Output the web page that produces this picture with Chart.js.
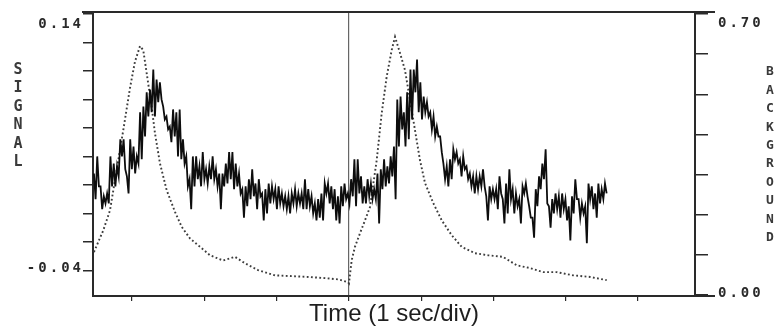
<!DOCTYPE html>
<html>
<head>
<meta charset="utf-8">
<script src="https://cdn.jsdelivr.net/npm/chart.js@4"></script>
<style>
  html, body { margin: 0; padding: 0; background: #fff; }
  #wrap { width: 779px; height: 329px; }
</style>
</head>
<body>
<div id="wrap"><canvas id="chart" width="779" height="329"></canvas></div>
<script>
// Signal trace: evenly sampled, starts at SIGNAL_T0 seconds, one sample every SIGNAL_DT
const SIGNAL_T0 = -0.526;
const SIGNAL_DT = 0.0228;
const signalValues = [
  0.028, 0.010, 0.040, 0.019, 0.019, 0.003, 0.012, 0.007, 0.014, 0.007,
  0.040, 0.019, 0.035, 0.019, 0.033, 0.026, 0.052, 0.040, 0.052, 0.031,
  0.026, 0.014, 0.052, 0.031, 0.047, 0.028, 0.040, 0.035, 0.071, 0.038,
  0.075, 0.054, 0.085, 0.068, 0.087, 0.071, 0.101, 0.068, 0.094, 0.078,
  0.092, 0.080, 0.075, 0.066, 0.068, 0.059, 0.061, 0.050, 0.073, 0.054,
  0.071, 0.040, 0.073, 0.038, 0.052, 0.035, 0.040, 0.019, 0.024, 0.003,
  0.040, 0.019, 0.040, 0.024, 0.033, 0.019, 0.043, 0.024, 0.031, 0.021,
  0.033, 0.024, 0.040, 0.024, 0.031, 0.019, 0.028, 0.003, 0.028, 0.019,
  0.035, 0.021, 0.043, 0.024,
  0.043, 0.017, 0.035, 0.019, 0.028, 0.014, 0.017, -0.003, 0.019, 0.005,
  0.024, 0.010, 0.031, 0.012, 0.021, 0.003, 0.024, 0.012, 0.014, -0.005,
  0.017, 0.000, 0.021, 0.007, 0.019, 0.010, 0.017, 0.003, 0.019, 0.007,
  0.014, 0.005, 0.012, 0.003, 0.012, 0.000, 0.014, 0.007, 0.017, 0.005,
  0.014, 0.007, 0.014, 0.003, 0.024, 0.003, 0.017, 0.005, 0.012, 0.000,
  0.007, -0.005, 0.010, -0.003, 0.014, -0.005, 0.021, 0.014, 0.021, 0.007,
  0.019, 0.003, 0.017, -0.005, 0.012, -0.007, 0.019, 0.005, 0.021, 0.010,
  0.014, 0.007, 0.024, 0.012, 0.038, 0.005, 0.038, 0.014, 0.026, 0.007,
  0.019, 0.007, 0.024, 0.012, 0.021, 0.010, 0.017, 0.010, 0.028, -0.007,
  0.031, 0.017, 0.038, 0.019, 0.033, 0.021, 0.040, 0.026, 0.047, 0.010,
  0.080, 0.047, 0.082, 0.059, 0.071, 0.047, 0.085, 0.052, 0.101, 0.066,
  0.101, 0.085, 0.108, 0.071, 0.092, 0.066, 0.082, 0.071, 0.078, 0.068,
  0.071, 0.059, 0.068, 0.054, 0.061, 0.054, 0.054, 0.043, 0.035, 0.024,
  0.033, 0.019, 0.038, 0.024, 0.045, 0.038, 0.043, 0.035, 0.038, 0.026,
  0.040, 0.031, 0.033, 0.024, 0.028, 0.019, 0.026, 0.014, 0.026, 0.017,
  0.026, 0.019, 0.031, 0.019, 0.012, -0.005, 0.019, 0.010, 0.017, 0.010,
  0.017, 0.003, 0.026, 0.014, 0.010, -0.007, 0.021, 0.000, 0.031, 0.010,
  0.017, 0.000, 0.014, 0.005, 0.010, -0.007, 0.019, 0.014, 0.021, 0.012,
  0.005, -0.003, -0.003, -0.017, 0.017, 0.005, 0.026, 0.017, 0.035, 0.024,
  0.045, 0.007, 0.005, -0.010, 0.010, 0.000, 0.014, 0.003, 0.012, -0.003,
  0.014, 0.003, 0.010, -0.005, 0.005, -0.019, 0.012, 0.000, 0.024, 0.010,
  0.010, -0.003, 0.007, 0.000, 0.005, -0.021, 0.021, 0.010, 0.019, 0.003,
  0.014, -0.003, 0.021, 0.007, 0.017, 0.010, 0.021, 0.014
];

// Background trace (dotted), read at irregular times
const backgroundTimes = [
  -0.526, -0.397, -0.304, -0.212, -0.120, -0.028, 0.041, 0.111, 0.156, 0.203,
  0.272, 0.318, 0.387, 0.480, 0.595, 0.687, 0.802, 0.941, 1.079, 1.259,
  1.425, 1.563, 1.743, 1.978, 2.209, 2.434, 2.669, 2.849, 2.988, 3.001,
  3.039, 3.084, 3.154, 3.223, 3.292, 3.385, 3.454, 3.523, 3.592, 3.638,
  3.707, 3.776, 3.845, 3.914, 3.983, 4.053, 4.167, 4.284, 4.422, 4.560,
  4.744, 4.924, 5.131, 5.321, 5.505, 5.685, 5.874, 6.100, 6.335, 6.566
];
const backgroundValues = [
  0.107, 0.161, 0.211, 0.311, 0.411, 0.515, 0.581, 0.620, 0.610, 0.553,
  0.469, 0.403, 0.328, 0.261, 0.207, 0.170, 0.141, 0.120, 0.099, 0.086,
  0.095, 0.079, 0.062, 0.049, 0.047, 0.045, 0.042, 0.039, 0.032, 0.029,
  0.087, 0.120, 0.154, 0.186, 0.219, 0.336, 0.453, 0.544, 0.610, 0.643,
  0.603, 0.560, 0.486, 0.411, 0.336, 0.279, 0.229, 0.186, 0.149, 0.120,
  0.104, 0.099, 0.095, 0.074, 0.067, 0.057, 0.057, 0.049, 0.045, 0.037
];

// Axes
const xTicks = [0, 1, 2, 3, 4, 5, 6, 7];
const dividerTime = 3;
const signalTicks = [-0.04, -0.02, 0, 0.02, 0.04, 0.06, 0.08, 0.10, 0.12, 0.14];
const signalLabelValues = [0.14, -0.04];
const signalLabelTexts = ['0.14', '-0.04'];
const backgroundTicks = [0, 0.1, 0.2, 0.3, 0.4, 0.5, 0.6, 0.7];
const backgroundLabelValues = [0.70, 0.00];
const backgroundLabelTexts = ['0.70', '0.00'];
const signalTitle = 'SIGNAL';
const backgroundTitle = 'BACKGROUND';
const timeTitle = 'Time (1 sec/div)';

const INK = '#2a2a2a';
const MONO = '"DejaVu Sans Mono", monospace';

const signalPoints = signalValues.map((v, i) => ({ x: SIGNAL_T0 + i * SIGNAL_DT, y: v }));
const backgroundPoints = backgroundTimes.map((t, i) => ({ x: t, y: backgroundValues[i] }));

// frame extensions, end labels and stacked axis titles
const decorations = {
  id: 'decorations',
  afterDraw(chart) {
    const { ctx, chartArea } = chart;
    const ys = chart.scales.ySignal;
    const yb = chart.scales.yBack;
    ctx.save();
    ctx.strokeStyle = INK;
    ctx.lineWidth = 2;
    ctx.beginPath();
    ctx.moveTo(chartArea.left - 11, chartArea.top);
    ctx.lineTo(chartArea.right + 20, chartArea.top);
    ctx.moveTo(chartArea.right, chartArea.bottom);
    ctx.lineTo(chartArea.right + 20, chartArea.bottom);
    ctx.stroke();

    ctx.fillStyle = INK;
    ctx.font = 'bold 14px ' + MONO;
    if ('letterSpacing' in ctx) ctx.letterSpacing = '3px';
    ctx.textBaseline = 'alphabetic';
    ctx.textAlign = 'right';
    signalLabelValues.forEach((v, i) => {
      const y = ys.getPixelForValue(v);
      ctx.fillText(signalLabelTexts[i], chartArea.left - 9, i === 0 ? y + 14 : y + 1.5);
    });
    ctx.textAlign = 'left';
    backgroundLabelValues.forEach((v, i) => {
      const y = yb.getPixelForValue(v);
      ctx.fillText(backgroundLabelTexts[i], chartArea.right + 23, i === 0 ? y + 13 : y + 2);
    });

    if ('letterSpacing' in ctx) ctx.letterSpacing = '0px';
    ctx.textAlign = 'center';
    ctx.textBaseline = 'middle';
    ctx.fillStyle = '#3a3a3a';
    ctx.font = 'bold 15px ' + MONO;
    signalTitle.split('').forEach((ch, i) => ctx.fillText(ch, 18, 70 + i * 18.5));
    ctx.font = 'bold 13px ' + MONO;
    backgroundTitle.split('').forEach((ch, i) => ctx.fillText(ch, 770, 72 + i * 18.4));
    ctx.restore();
  }
};

new Chart(document.getElementById('chart'), {
  type: 'line',
  data: {
    datasets: [
      {
        label: 'Signal',
        data: signalPoints,
        yAxisID: 'ySignal',
        borderColor: '#0d0d0d',
        borderWidth: 1.8,
        pointRadius: 0,
        tension: 0
      },
      {
        label: 'Background',
        data: backgroundPoints,
        yAxisID: 'yBack',
        borderColor: '#3c3c3c',
        borderWidth: 1.9,
        borderDash: [1.8, 2.4],
        pointRadius: 0,
        tension: 0
      }
    ]
  },
  options: {
    responsive: false,
    animation: false,
    layout: { padding: { top: 12, left: 0, right: 0, bottom: 0 } },
    plugins: { legend: { display: false }, tooltip: { enabled: false } },
    scales: {
      x: {
        type: 'linear',
        min: -0.539,
        max: 7.787,
        afterBuildTicks: (s) => { s.ticks = xTicks.map((v) => ({ value: v })); },
        afterFit: (s) => { s.height = 33; },
        ticks: { display: false },
        grid: {
          drawOnChartArea: true,
          color: (c) => (c.tick && c.tick.value === dividerTime ? '#666' : 'rgba(0,0,0,0)'),
          tickColor: INK,
          tickLength: 5,
          lineWidth: 1.2
        },
        border: { display: true, color: INK, width: 2 },
        title: {
          display: true,
          text: timeTitle,
          color: '#1e1e1e',
          font: { family: '"Liberation Sans", Arial, sans-serif', size: 24 },
          padding: { top: 0, bottom: 0 }
        }
      },
      ySignal: {
        position: 'left',
        min: -0.058,
        max: 0.1414,
        afterBuildTicks: (s) => { s.ticks = signalTicks.map((v) => ({ value: v })); },
        afterFit: (s) => { s.width = 93; },
        ticks: { display: false },
        grid: { drawOnChartArea: false, tickColor: INK, tickLength: 10, lineWidth: 1.5 },
        border: { display: true, color: INK, width: 2 }
      },
      yBack: {
        position: 'right',
        min: -0.0025,
        max: 0.705,
        afterBuildTicks: (s) => { s.ticks = backgroundTicks.map((v) => ({ value: v })); },
        afterFit: (s) => { s.width = 84; },
        ticks: { display: false },
        grid: { drawOnChartArea: false, tickColor: INK, tickLength: 13, lineWidth: 1.5 },
        border: { display: true, color: INK, width: 2 }
      }
    }
  },
  plugins: [decorations]
});
</script>
</body>
</html>
